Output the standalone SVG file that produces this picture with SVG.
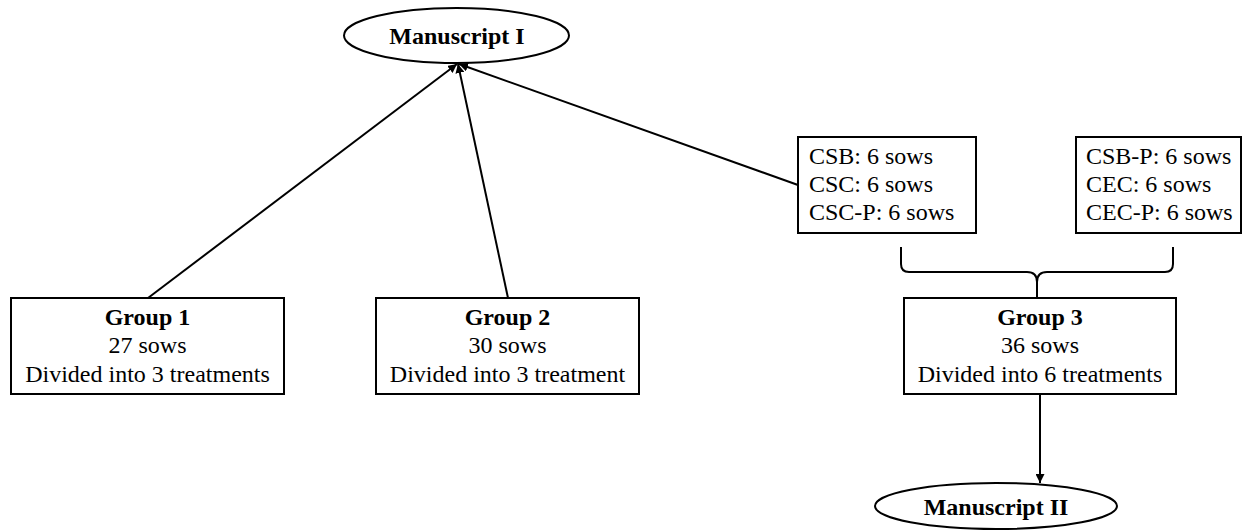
<svg xmlns="http://www.w3.org/2000/svg" width="1243" height="531" viewBox="0 0 1243 531">
<defs>
<style>
.box{fill:#fff;stroke:#000;stroke-width:2}
.ell{fill:#fff;stroke:#000;stroke-width:2}
.t{font-family:"Liberation Serif","Times New Roman",serif;font-size:24px;fill:#000}
.b{font-weight:bold}
.c{text-anchor:middle}
.ln{fill:none;stroke:#000;stroke-width:2}
</style>
<marker id="ah" viewBox="0 0 10 10" refX="10" refY="5" markerWidth="9" markerHeight="9" markerUnits="userSpaceOnUse" orient="auto">
<path d="M0,0 L10,5 L0,10 z" fill="#000"/>
</marker>
</defs>
<rect width="1243" height="531" fill="#fff"/>
<g id="connectors">
<line class="ln" x1="148" y1="298" x2="457" y2="64" marker-end="url(#ah)"/>
<line class="ln" x1="508" y1="298" x2="458" y2="64" marker-end="url(#ah)"/>
<line class="ln" x1="798" y1="185" x2="459" y2="64" marker-end="url(#ah)"/>
<line class="ln" x1="1040" y1="394" x2="1040" y2="483" marker-end="url(#ah)"/>
<path class="ln" d="M901,247 L901,264 Q901,272 909,272 L1027,272 Q1037,272 1037,282 L1037,298 M1037,282 Q1037,272 1047,272 L1165,272 Q1173,272 1173,264 L1173,247"/>
</g>
<g id="manuscript1">
<ellipse class="ell" cx="456.5" cy="35.5" rx="112.5" ry="27.5"/>
<text class="t b c" x="457" y="44">Manuscript I</text>
</g>
<g id="group1">
<rect class="box" x="11" y="298" width="273" height="96"/>
<text class="t b c" x="147.5" y="325">Group 1</text>
<text class="t c" x="147.5" y="353">27 sows</text>
<text class="t c" x="147.5" y="382">Divided into 3 treatments</text>
</g>
<g id="group2">
<rect class="box" x="376" y="298" width="263" height="96"/>
<text class="t b c" x="507.5" y="325">Group 2</text>
<text class="t c" x="507.5" y="353">30 sows</text>
<text class="t c" x="507.5" y="382">Divided into 3 treatment</text>
</g>
<g id="treatmentsA">
<rect class="box" x="798" y="137" width="178" height="96"/>
<text class="t" x="809" y="164">CSB: 6 sows</text>
<text class="t" x="809" y="192">CSC: 6 sows</text>
<text class="t" x="809" y="220">CSC-P: 6 sows</text>
</g>
<g id="treatmentsB">
<rect class="box" x="1076" y="137" width="165" height="96"/>
<text class="t" x="1086" y="164">CSB-P: 6 sows</text>
<text class="t" x="1086" y="192">CEC: 6 sows</text>
<text class="t" x="1086" y="220">CEC-P: 6 sows</text>
</g>
<g id="group3">
<rect class="box" x="904" y="298" width="272" height="96"/>
<text class="t b c" x="1040" y="325">Group 3</text>
<text class="t c" x="1040" y="353">36 sows</text>
<text class="t c" x="1040" y="382">Divided into 6 treatments</text>
</g>
<g id="manuscript2">
<ellipse class="ell" cx="996" cy="506" rx="121" ry="23"/>
<text class="t b c" x="996" y="515">Manuscript II</text>
</g>
</svg>
